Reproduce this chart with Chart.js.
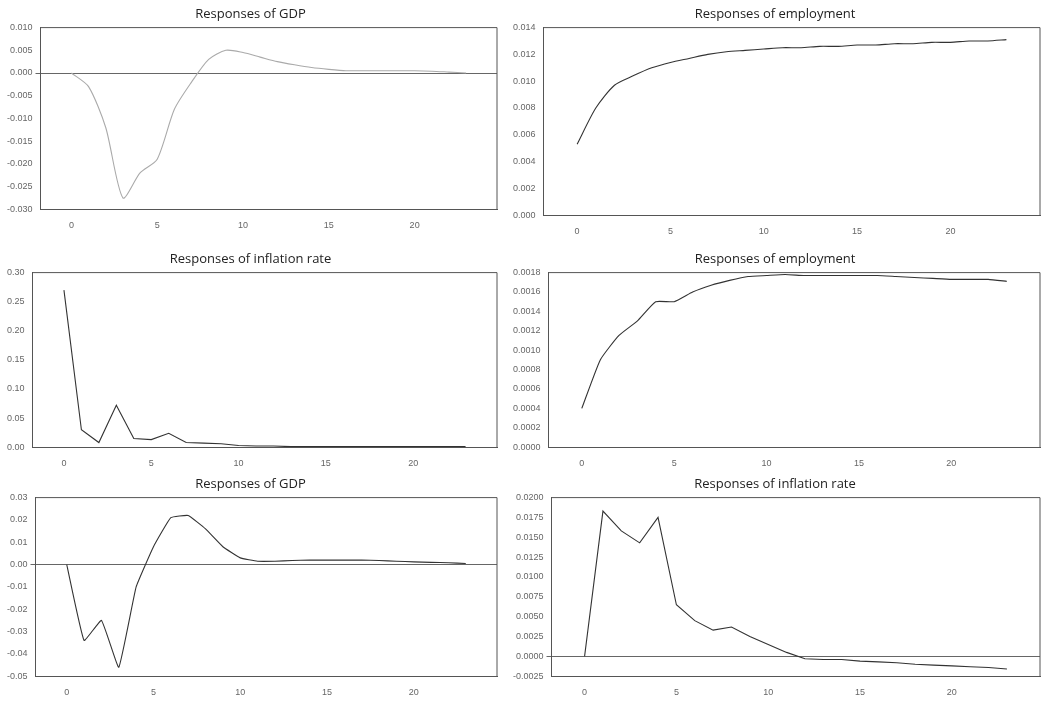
<!DOCTYPE html>
<html>
<head>
<meta charset="utf-8">
<script src="https://cdn.jsdelivr.net/npm/chart.js@4/dist/chart.umd.min.js"></script>
<style>
body{margin:0;background:#fff;width:1048px;height:701px;position:relative;overflow:hidden}
.box{position:absolute}
</style>
</head>
<body>
<div class="box" style="left:4px;top:2px;width:501px;height:232px"><canvas id="c1"></canvas></div>
<div class="box" style="left:510px;top:2px;width:538px;height:238px"><canvas id="c2"></canvas></div>
<div class="box" style="left:4px;top:247px;width:501px;height:225px"><canvas id="c3"></canvas></div>
<div class="box" style="left:510px;top:247px;width:538px;height:225px"><canvas id="c4"></canvas></div>
<div class="box" style="left:4px;top:472px;width:501px;height:229px"><canvas id="c5"></canvas></div>
<div class="box" style="left:510px;top:472px;width:538px;height:229px"><canvas id="c6"></canvas></div>
<script>
// periods 0..23
var periods = [0,1,2,3,4,5,6,7,8,9,10,11,12,13,14,15,16,17,18,19,20,21,22,23];
var gdp1 = [0,-0.003,-0.012,-0.0275,-0.022,-0.019,-0.008,-0.002,0.003,0.005,0.0045,0.0035,0.0025,0.0018,0.0012,0.0008,0.0005,0.0005,0.0005,0.0005,0.0005,0.0004,0.0002,0];
var emp1 = [0.0053,0.0080,0.0097,0.0104,0.0110,0.0114,0.0117,0.0120,0.0122,0.0123,0.0124,0.0125,0.0125,0.0126,0.0126,0.0127,0.0127,0.0128,0.0128,0.0129,0.0129,0.0130,0.0130,0.0131];
var infl1 = [0.27,0.03,0.008,0.072,0.015,0.013,0.024,0.008,0.007,0.006,0.003,0.002,0.002,0.001,0.001,0.001,0.001,0.001,0.001,0.001,0.001,0.001,0.001,0.001];
var emp2 = [0.0004,0.0009,0.00115,0.0013,0.0015,0.0015,0.0016,0.00167,0.00172,0.00176,0.00177,0.00178,0.00177,0.00177,0.00177,0.00177,0.00177,0.00176,0.00175,0.00174,0.00173,0.00173,0.00173,0.00171];
var gdp2 = [0,-0.034,-0.025,-0.046,-0.01,0.008,0.021,0.022,0.016,0.008,0.003,0.0015,0.0015,0.0018,0.002,0.002,0.002,0.002,0.0018,0.0015,0.0012,0.001,0.0008,0.0005];
var infl2 = [0,0.0183,0.0158,0.0143,0.0175,0.0065,0.0045,0.0033,0.0037,0.0025,0.0015,0.0005,-0.0003,-0.0004,-0.0004,-0.0006,-0.0007,-0.0008,-0.001,-0.0011,-0.0012,-0.0013,-0.0014,-0.0016];
var xTicks = [0,5,10,15,20];

function make(id, title, vals, ymin, ymax, step, dec, color, tension){
  new Chart(document.getElementById(id), {
    type: 'line',
    data: {datasets: [{data: periods.map(function(p,i){return {x:p,y:vals[i]};}),
      borderColor: color, borderWidth: 1.1, pointRadius: 0, tension: tension, fill: false}]},
    options: {
      responsive: true, maintainAspectRatio: false, animation: false,
      layout: {padding: {right: 8}},
      plugins: {legend: {display: false}, tooltip: {enabled: false},
        title: {display: true, text: title, color: '#222', font: {family: 'Open Sans', size: 13, weight: 'normal'}, padding: {top: 4, bottom: 6}}},
      scales: {
        x: {type: 'linear', min: -1.8, max: 24.8, border: {color: '#555'},
          afterBuildTicks: function(ax){ax.ticks = xTicks.map(function(v){return {value:v};});},
          grid: {display: false, drawTicks: true},
          ticks: {color: '#666', font: {family: 'Liberation Sans', size: 9}}},
        y: {min: ymin, max: ymax, border: {color: '#555'},
          ticks: {stepSize: step, color: '#666', font: {family: 'Liberation Sans', size: 9},
            callback: function(v){return Number(v).toFixed(dec);}},
          grid: {drawOnChartArea: true, tickLength: 5,
            color: function(c){return (c.tick && Math.abs(c.tick.value) < 1e-12 && ymin < 0) ? '#666' : 'rgba(0,0,0,0)';}}}
      }
    },
    plugins: [{id: 'frame', afterDraw: function(ch){
      var a = ch.chartArea, g = ch.ctx; g.save(); g.strokeStyle = '#555'; g.lineWidth = 1;
      g.beginPath(); g.moveTo(a.left, a.top); g.lineTo(a.right, a.top); g.lineTo(a.right, a.bottom); g.stroke(); g.restore();
    }}]
  });
}
make('c1', 'Responses of GDP', gdp1, -0.03, 0.01, 0.005, 3, '#aaa', 0.25);
make('c2', 'Responses of employment', emp1, 0, 0.014, 0.002, 3, '#333', 0.25);
make('c3', 'Responses of inflation rate', infl1, 0, 0.30, 0.05, 2, '#333', 0);
make('c4', 'Responses of employment', emp2, 0, 0.0018, 0.0002, 4, '#333', 0.15);
make('c5', 'Responses of GDP', gdp2, -0.05, 0.03, 0.01, 2, '#333', 0.1);
make('c6', 'Responses of inflation rate', infl2, -0.0025, 0.02, 0.0025, 4, '#333', 0);
</script>
</body>
</html>
